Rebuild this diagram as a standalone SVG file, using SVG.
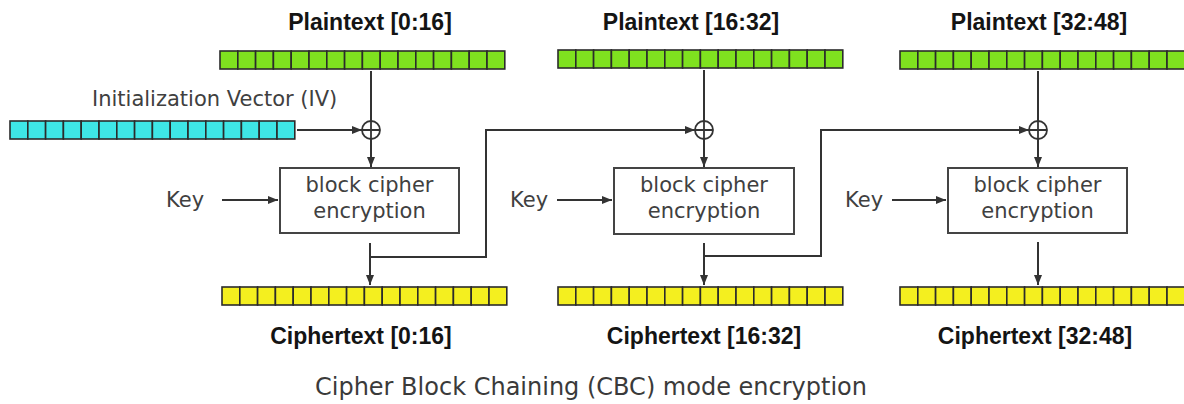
<svg xmlns="http://www.w3.org/2000/svg" xmlns:xlink="http://www.w3.org/1999/xlink" width="1184" height="404" viewBox="0 0 1184 404">
<style>
.bar rect{stroke:#2b2b2b;stroke-width:1.6}
.green{fill:#7fe11f}
.cyan{fill:#3ee6e6}
.yellow{fill:#f4ef1f}
.lbl{font-family:"Liberation Sans",Arial,sans-serif;font-weight:bold;font-size:23px;fill:#141414;text-anchor:middle}
.txt{font-family:"DejaVu Sans",Verdana,sans-serif;font-size:21px;fill:#404040}
.box{fill:#fff;stroke:#444;stroke-width:2}
.ln{fill:none;stroke:#333;stroke-width:2}
.xor{fill:none;stroke:#333;stroke-width:1.8}
.title{font-family:"DejaVu Sans",Verdana,sans-serif;font-size:24px;fill:#3a3a3a;text-anchor:middle}
</style>
<defs>
<marker id="ah" viewBox="0 0 10 8" refX="10" refY="4" markerWidth="5" markerHeight="4" orient="auto" markerUnits="strokeWidth">
<path d="M0,0 L10,4 L0,8 z" fill="#333"/>
</marker>
<g id="bar" class="bar">
<rect x="0" y="0" width="17.8" height="18"/><rect x="17.8" y="0" width="17.8" height="18"/><rect x="35.6" y="0" width="17.8" height="18"/><rect x="53.4" y="0" width="17.8" height="18"/><rect x="71.2" y="0" width="17.8" height="18"/><rect x="89" y="0" width="17.8" height="18"/><rect x="106.8" y="0" width="17.8" height="18"/><rect x="124.6" y="0" width="17.8" height="18"/><rect x="142.4" y="0" width="17.8" height="18"/><rect x="160.2" y="0" width="17.8" height="18"/><rect x="178" y="0" width="17.8" height="18"/><rect x="195.8" y="0" width="17.8" height="18"/><rect x="213.6" y="0" width="17.8" height="18"/><rect x="231.4" y="0" width="17.8" height="18"/><rect x="249.2" y="0" width="17.8" height="18"/><rect x="267" y="0" width="17.8" height="18"/>
</g>
<g id="xor"><circle cx="0" cy="0" r="9"/><path d="M-9,0 H9 M0,-9 V9"/></g>
</defs>
<rect width="1184" height="404" fill="#fff"/>

<g id="plaintext1"><text class="lbl" x="370" y="30">Plaintext [0:16]</text><use xlink:href="#bar" x="220" y="51" class="green"/></g>
<g id="plaintext2"><text class="lbl" x="691" y="30">Plaintext [16:32]</text><use xlink:href="#bar" x="558" y="50" class="green"/></g>
<g id="plaintext3"><text class="lbl" x="1039" y="30">Plaintext [32:48]</text><use xlink:href="#bar" x="900" y="51" class="green"/></g>

<g id="iv"><text class="txt" x="92" y="106">Initialization Vector (IV)</text><use xlink:href="#bar" x="10" y="121" class="cyan"/></g>

<g id="xor1" class="xor"><use xlink:href="#xor" x="371" y="130"/></g>
<g id="xor2" class="xor"><use xlink:href="#xor" x="704" y="130"/></g>
<g id="xor3" class="xor"><use xlink:href="#xor" x="1038" y="130"/></g>

<g id="key1"><text class="txt" x="166" y="207">Key</text></g>
<g id="key2"><text class="txt" x="510" y="207">Key</text></g>
<g id="key3"><text class="txt" x="845" y="207">Key</text></g>

<g id="cipher1"><rect class="box" x="280" y="168" width="179" height="65"/><text class="txt" x="369.5" y="192" text-anchor="middle">block cipher</text><text class="txt" x="369.5" y="218" text-anchor="middle">encryption</text></g>
<g id="cipher2"><rect class="box" x="614" y="168" width="180" height="66"/><text class="txt" x="704" y="192" text-anchor="middle">block cipher</text><text class="txt" x="704" y="218" text-anchor="middle">encryption</text></g>
<g id="cipher3"><rect class="box" x="948" y="168" width="179" height="65"/><text class="txt" x="1037.5" y="192" text-anchor="middle">block cipher</text><text class="txt" x="1037.5" y="218" text-anchor="middle">encryption</text></g>

<g id="ciphertext1"><use xlink:href="#bar" x="222" y="287" class="yellow"/><text class="lbl" x="361" y="344">Ciphertext [0:16]</text></g>
<g id="ciphertext2"><use xlink:href="#bar" x="558" y="287" class="yellow"/><text class="lbl" x="704" y="344">Ciphertext [16:32]</text></g>
<g id="ciphertext3"><use xlink:href="#bar" x="900" y="287" class="yellow"/><text class="lbl" x="1035" y="344">Ciphertext [32:48]</text></g>

<g id="connectors" class="ln">
<path d="M371,71 V121"/>
<path d="M371,139 V167" marker-end="url(#ah)"/>
<path d="M297,130 H362" marker-end="url(#ah)"/>
<path d="M222,200 H278" marker-end="url(#ah)"/>
<path d="M370,243 V285" marker-end="url(#ah)"/>
<path d="M370,257 H486 V130 H695" marker-end="url(#ah)"/>
<path d="M704,70 V121"/>
<path d="M704,139 V167" marker-end="url(#ah)"/>
<path d="M557,200 H612" marker-end="url(#ah)"/>
<path d="M704,243 V285" marker-end="url(#ah)"/>
<path d="M704,256 H821 V130 H1029" marker-end="url(#ah)"/>
<path d="M1038,71 V121"/>
<path d="M1038,139 V167" marker-end="url(#ah)"/>
<path d="M892,200 H946" marker-end="url(#ah)"/>
<path d="M1038,242 V285" marker-end="url(#ah)"/>
</g>

<text class="title" x="591" y="395">Cipher Block Chaining (CBC) mode encryption</text>
</svg>
